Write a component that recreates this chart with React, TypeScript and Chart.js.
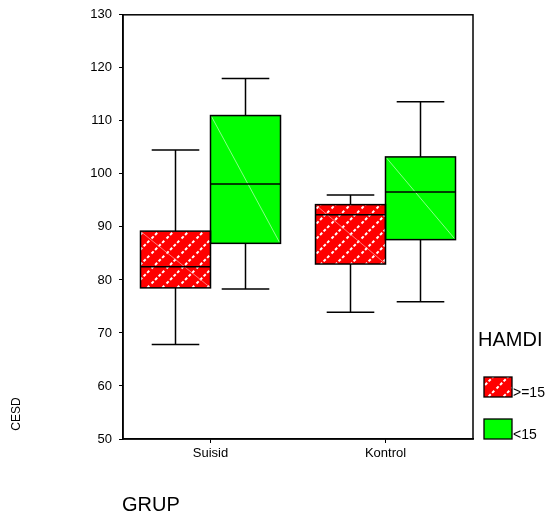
import React, { useEffect, useRef } from "react";
import { Chart, registerables } from "chart.js";

Chart.register(...registerables);

// Groups on the x axis
const categories = ["Suisid", "Kontrol"];

// HAMDI groups (legend labels)
const seriesLabels = [">=15", "<15"];

// Box-plot summaries per HAMDI group, one value per category
const lowHigh15 = [67.8, 73.9];
const q1High15 = [78.5, 83.0];
const medianHigh15 = [82.5, 92.3];
const q3High15 = [89.2, 94.2];
const highHigh15 = [104.5, 96.0];

const lowLow15 = [78.3, 75.9];
const q1Low15 = [86.9, 87.6];
const medianLow15 = [98.1, 96.6];
const q3Low15 = [111.0, 103.2];
const highLow15 = [118.0, 113.6];

// Y axis range / tick step
const yMin = 50;
const yMax = 130;
const yStep = 10;

const FONT = "'Liberation Sans', Arial, Helvetica, sans-serif";

// red fill with white dashed diagonal stripes
function makeHatch(): CanvasPattern | string {
  const size = 15;
  const c = document.createElement("canvas");
  c.width = size;
  c.height = size;
  const g = c.getContext("2d");
  if (!g) return "#ff0000";
  g.fillStyle = "#ff0000";
  g.fillRect(0, 0, size, size);
  g.strokeStyle = "#ffffff";
  g.lineWidth = 2;
  g.setLineDash([3, 2]);
  g.beginPath();
  g.moveTo(-2, size + 2);
  g.lineTo(size + 2, -2);
  g.stroke();
  const p = g.createPattern(c, "repeat");
  return p || "#ff0000";
}

const boxStats = [
  { low: lowHigh15, med: medianHigh15, high: highHigh15, diag: "rgba(255,170,170,0.7)" },
  { low: lowLow15, med: medianLow15, high: highLow15, diag: "rgba(170,255,170,0.8)" },
];

const whiskerPlugin = {
  id: "whiskers",
  afterDatasetsDraw(chart: any) {
    const ctx = chart.ctx;
    const y = chart.scales.y;
    ctx.save();
    boxStats.forEach((st, di) => {
      const meta = chart.getDatasetMeta(di);
      meta.data.forEach((bar: any, i: number) => {
        const props = bar.getProps(["x", "y", "base", "width"], true);
        const cx = props.x;
        const w = props.width;
        const left = cx - w / 2;
        const right = cx + w / 2;
        const top = Math.min(props.y, props.base);
        const bottom = Math.max(props.y, props.base);
        // faint diagonal across the box
        ctx.strokeStyle = st.diag;
        ctx.lineWidth = 1;
        ctx.beginPath();
        ctx.moveTo(left + 1, top + 1);
        ctx.lineTo(right - 1, bottom - 1);
        ctx.stroke();
        // box outline
        ctx.strokeStyle = "#000";
        ctx.lineWidth = 1.5;
        ctx.strokeRect(left, top, w, bottom - top);
        // median
        const ym = y.getPixelForValue(st.med[i]);
        ctx.beginPath();
        ctx.moveTo(left, ym);
        ctx.lineTo(right, ym);
        ctx.stroke();
        // whiskers
        const yl = y.getPixelForValue(st.low[i]);
        const yh = y.getPixelForValue(st.high[i]);
        const cap = w * 0.34;
        ctx.beginPath();
        ctx.moveTo(cx, top);
        ctx.lineTo(cx, yh);
        ctx.moveTo(cx - cap, yh);
        ctx.lineTo(cx + cap, yh);
        ctx.moveTo(cx, bottom);
        ctx.lineTo(cx, yl);
        ctx.moveTo(cx - cap, yl);
        ctx.lineTo(cx + cap, yl);
        ctx.stroke();
      });
    });
    ctx.restore();
  },
};

const framePlugin = {
  id: "frameAndText",
  afterDraw(chart: any) {
    const ctx = chart.ctx;
    const a = chart.chartArea;
    ctx.save();
    ctx.strokeStyle = "#000";
    ctx.lineWidth = 1.5;
    ctx.strokeRect(a.left, a.top, a.right - a.left, a.bottom - a.top);

    ctx.fillStyle = "#000";
    ctx.textBaseline = "alphabetic";
    ctx.textAlign = "left";
    // x axis title
    ctx.font = `20px ${FONT}`;
    ctx.fillText("GRUP", 122, 511);
    // legend title
    ctx.fillText("HAMDI", 478, 346);

    // legend entries
    const fills = chart.data.datasets.map((d: any) => d.backgroundColor);
    const swatchY = [377, 419];
    ctx.font = `14px ${FONT}`;
    seriesLabels.forEach((lab, k) => {
      ctx.fillStyle = fills[k];
      ctx.fillRect(484, swatchY[k], 28, 20);
      ctx.strokeStyle = "#000";
      ctx.lineWidth = 1.3;
      ctx.strokeRect(484, swatchY[k], 28, 20);
      ctx.fillStyle = "#000";
      ctx.fillText(lab, 513, swatchY[k] + 20);
    });

    // y axis title, rotated
    ctx.translate(17, 414);
    ctx.rotate(-Math.PI / 2);
    ctx.font = `12px ${FONT}`;
    ctx.textAlign = "center";
    ctx.textBaseline = "middle";
    ctx.fillText("CESD", 0, 0);
    ctx.restore();
  },
};

export default function App() {
  const ref = useRef<HTMLCanvasElement | null>(null);

  useEffect(() => {
    const canvas = ref.current;
    if (!canvas) return;
    const hatch = makeHatch();
    const chart = new Chart(canvas, {
      type: "bar",
      data: {
        labels: categories,
        datasets: [
          {
            label: seriesLabels[0],
            data: categories.map((_, i) => [q1High15[i], q3High15[i]]) as any,
            backgroundColor: hatch as any,
            borderWidth: 0,
            barPercentage: 1,
            categoryPercentage: 0.8,
          },
          {
            label: seriesLabels[1],
            data: categories.map((_, i) => [q1Low15[i], q3Low15[i]]) as any,
            backgroundColor: "#00ff00",
            borderWidth: 0,
            barPercentage: 1,
            categoryPercentage: 0.8,
          },
        ],
      },
      options: {
        responsive: false,
        animation: false,
        devicePixelRatio: 1,
        layout: { padding: { left: 0, right: 77, top: 9, bottom: 0 } },
        plugins: {
          legend: { display: false },
          tooltip: { enabled: false },
        },
        scales: {
          x: {
            grid: {
              offset: false,
              drawOnChartArea: false,
              drawTicks: true,
              tickLength: 4,
              color: "#000",
              lineWidth: 1,
            },
            border: { display: true, color: "#000", width: 1.5 },
            ticks: {
              color: "#000",
              padding: 3,
              font: { family: FONT, size: 13 },
            },
            afterFit: (s: any) => {
              s.height = 78;
            },
          },
          y: {
            min: yMin,
            max: yMax,
            grid: {
              drawOnChartArea: false,
              drawTicks: true,
              tickLength: 4,
              color: "#000",
              lineWidth: 1,
            },
            border: { display: true, color: "#000", width: 1.5 },
            ticks: {
              stepSize: yStep,
              color: "#000",
              padding: 7,
              font: { family: FONT, size: 13 },
            },
            afterFit: (s: any) => {
              s.width = 123;
            },
          },
        },
      },
      plugins: [whiskerPlugin, framePlugin],
    });
    return () => chart.destroy();
  }, []);

  return (
    <div
      style={{
        position: "fixed",
        left: 0,
        top: 0,
        width: 550,
        height: 517,
        background: "#fff",
      }}
    >
      <canvas ref={ref} width={550} height={517} style={{ width: 550, height: 517, display: "block" }} />
    </div>
  );
}
